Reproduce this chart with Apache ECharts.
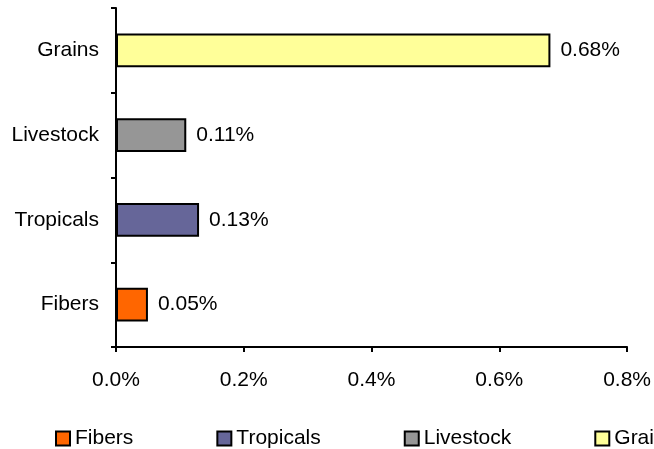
<!DOCTYPE html>
<html><head><meta charset="utf-8">
<script src="https://cdn.jsdelivr.net/npm/echarts@6/dist/echarts.min.js"></script>
<style>html,body{margin:0;padding:0;background:#fff}#c{width:654px;height:449px}</style>
</head><body><div id="c"></div>
<script>
var categories = ['Fibers', 'Tropicals', 'Livestock', 'Grains'];
var values = [0.05, 0.13, 0.11, 0.68];
var colors = ['#FF6600', '#666699', '#969696', '#FFFF99'];
var xTicks = [0, 0.2, 0.4, 0.6, 0.8];
var FONT = 'Liberation Sans, Arial';
var FS = 21;

var series = categories.map(function (name, i) {
  var d = categories.map(function (c, j) { return j === i ? values[i] : '-'; });
  return {
    name: name, type: 'bar', stack: 'all', data: d, barWidth: '40%',
    itemStyle: { color: colors[i], borderColor: '#000', borderWidth: 2 },
    label: { show: true, position: 'right', distance: 10, color: '#000', fontSize: FS,
      fontFamily: FONT, formatter: function (p) { return p.value.toFixed(2) + '%'; } }
  };
});

var chart = echarts.init(document.getElementById('c'));
chart.setOption({
  animation: false,
  textStyle: { fontFamily: FONT },
  grid: { left: 116, right: 24, top: 8, bottom: 102, containLabel: false },
  xAxis: {
    type: 'value', min: xTicks[0], max: xTicks[xTicks.length - 1], interval: 0.2,
    splitLine: { show: false },
    axisLine: { show: true, lineStyle: { color: '#000', width: 2 } },
    axisTick: { show: true, length: 5, lineStyle: { color: '#000', width: 2 } },
    axisLabel: { color: '#000', fontSize: FS, margin: 23, fontFamily: FONT,
      formatter: function (v) { return v.toFixed(1) + '%'; } }
  },
  yAxis: {
    type: 'category', data: categories,
    axisLine: { show: true, lineStyle: { color: '#000', width: 2 } },
    axisTick: { show: true, length: 5, lineStyle: { color: '#000', width: 2 } },
    axisLabel: { color: '#000', fontSize: FS, margin: 17, fontFamily: FONT }
  },
  legend: {
    left: 55, top: 428, padding: 0, width: 1400, itemGap: 83, itemWidth: 14, itemHeight: 14,
    icon: 'rect', itemStyle: { borderColor: '#000', borderWidth: 2 },
    textStyle: { color: '#000', fontSize: FS, fontFamily: FONT },
    data: categories
  },
  series: series
});
</script></body></html>
